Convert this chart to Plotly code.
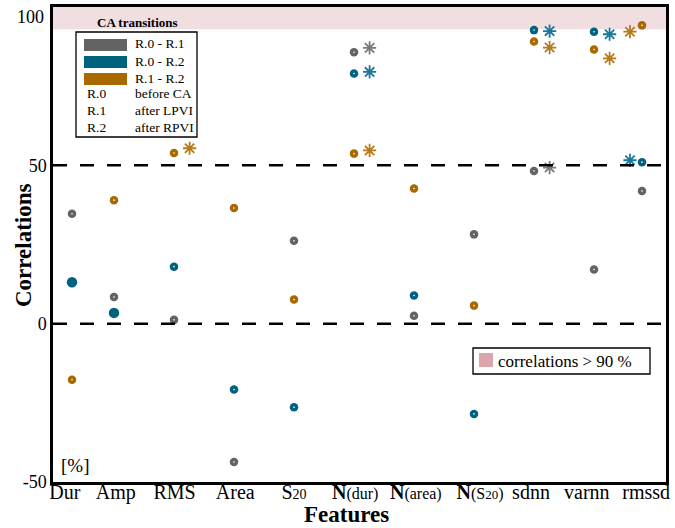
import plotly.graph_objects as go

# ---------------- data ----------------
features = ["Dur", "Amp", "RMS", "Area", "S<span style='font-size:14px'>20</span>",
            "<b>N</b><span style='font-size:16px'>(dur)</span>",
            "<b>N</b><span style='font-size:16px'>(area)</span>",
            "<b>N</b><span style='font-size:16px'>(S<span style='font-size:13px'>20</span>)</span>",
            "sdnn", "varnn", "rmssd"]
feature_pos = [0.3, 1, 2, 3, 4, 5, 6, 7, 8, 9, 9.8]
label_pos = [0.18, 1.03, 2.01, 3.02, 4.0, 5.02, 6.03, 7.1, 7.95, 8.88, 9.87]
y_ticks = [-50, 0, 50, 100]
y_ticktext = ["-50", "0", "50", ""]

r01 = [34.7, 8.4, 1.2, -43.7, 26.2, 85.7, 2.5, 28.2, 48.2, 17.1, 41.9]
r02 = [13.1, 3.4, 18.0, -20.8, -26.4, 79.0, 8.9, -28.5, 92.7, 92.2, 51.0]
r12 = [-17.7, 39.0, 53.9, 36.5, 7.6, 53.7, 42.7, 5.7, 89.1, 86.6, 94.2]

# significance markers: feature index, value, side (+1 right, -1 left)
sig01_idx = [5, 8]
sig01_val = [87.1, 49.3]
sig01_side = [1, 1]
sig02_idx = [5, 8, 9, 10]
sig02_val = [79.5, 92.4, 91.4, 51.6]
sig02_side = [1, 1, 1, -1]
sig12_idx = [2, 5, 8, 9, 10]
sig12_val = [55.4, 54.7, 87.2, 83.8, 92.2]
sig12_side = [1, 1, 1, 1, -1]

series_names = ["R.0 - R.1", "R.0 - R.2", "R.1 - R.2"]
legend_rows = [("R.0", "before CA"), ("R.1", "after LPVI"), ("R.2", "after RPVI")]

# ---------------- style ----------------
GRAY = "#636363"
BLUE = "#00627f"
ORANGE = "#a86a00"
GRAY_A = "#7a7a7a"
BLUE_A = "#1a7898"
ORANGE_A = "#b57c1c"
PINK_BAND = "#f0dee1"
PINK_BOX = "#dca4ac"
FONT = "Liberation Serif, Times New Roman, serif"

L, R, T, B = 53, 666, 7, 482
W, H = 675, 528


def px(x):
    return (x - L) / (R - L)


def py(y):
    return (B - y) / (B - T)


fig = go.Figure()

series = [(r01, GRAY, GRAY_A, sig01_idx, sig01_val, sig01_side),
          (r02, BLUE, BLUE_A, sig02_idx, sig02_val, sig02_side),
          (r12, ORANGE, ORANGE_A, sig12_idx, sig12_val, sig12_side)]

for k, (vals, col, acol, sidx, sval, sside) in enumerate(series):
    sizes = [8.5] * len(vals)
    if k == 1:
        sizes[0] = 10.5
        sizes[1] = 10.5
    fig.add_trace(go.Scatter(x=feature_pos, y=vals, mode="markers",
                             marker=dict(color=col, size=sizes, opacity=1, line=dict(width=0)),
                             showlegend=False, hoverinfo="skip"))
    # white centre dots
    cx = [feature_pos[i] for i in range(len(vals)) if not (k == 1 and i < 2)]
    cy = [vals[i] for i in range(len(vals)) if not (k == 1 and i < 2)]
    fig.add_trace(go.Scatter(x=cx, y=cy, mode="markers",
                             marker=dict(color="white", size=1.6, opacity=1, line=dict(width=0)),
                             showlegend=False, hoverinfo="skip"))
    ax = [feature_pos[i] + (0.26 if s > 0 else -0.2) for i, s in zip(sidx, sside)]
    fig.add_trace(go.Scatter(x=ax, y=sval, mode="markers",
                             marker=dict(symbol="asterisk-open", size=11, color=acol,
                                         line=dict(color=acol, width=1.8)),
                             showlegend=False, hoverinfo="skip"))

shapes = []
# pink band
shapes.append(dict(type="rect", xref="paper", yref="y", x0=0, x1=1, y0=93, y1=100,
                   fillcolor=PINK_BAND, line=dict(width=0), layer="below"))
# dashed lines
for yv in [50, 0]:
    shapes.append(dict(type="line", xref="paper", yref="y", x0=0, x1=1, y0=yv, y1=yv,
                       line=dict(color="black", width=2.5, dash="14px,13px")))
# legend box
shapes.append(dict(type="rect", xref="paper", yref="paper", x0=px(76), x1=px(197),
                   y0=py(137), y1=py(32), fillcolor="white",
                   line=dict(color="black", width=1.3)))
bar_tops = [39, 56, 73]
for (name, col, top) in zip(series_names, [GRAY, BLUE, ORANGE], bar_tops):
    shapes.append(dict(type="rect", xref="paper", yref="paper", x0=px(84), x1=px(127),
                       y0=py(top + 12), y1=py(top), fillcolor=col, line=dict(width=0)))
# correlation box
shapes.append(dict(type="rect", xref="paper", yref="paper", x0=px(473), x1=px(650),
                   y0=py(374), y1=py(348), fillcolor="white",
                   line=dict(color="black", width=1.3)))
shapes.append(dict(type="rect", xref="paper", yref="paper", x0=px(479), x1=px(493),
                   y0=py(367), y1=py(353), fillcolor=PINK_BOX, line=dict(width=0)))

ann = []
ann.append(dict(text="<b>CA transitions</b>", x=px(137), y=py(23), xref="paper", yref="paper",
                showarrow=False, xanchor="center", yanchor="middle",
                font=dict(family=FONT, size=13, color="black")))
for name, top in zip(series_names, bar_tops):
    ann.append(dict(text=name, x=px(133), y=py(top + 5), xref="paper", yref="paper",
                    showarrow=False, xanchor="left", yanchor="middle",
                    font=dict(family=FONT, size=13.5, color="black")))
for (a, b), yy in zip(legend_rows, [93, 110, 127]):
    ann.append(dict(text=a, x=px(85), y=py(yy), xref="paper", yref="paper",
                    showarrow=False, xanchor="left", yanchor="middle",
                    font=dict(family=FONT, size=13.5, color="black")))
    ann.append(dict(text=b, x=px(133), y=py(yy), xref="paper", yref="paper",
                    showarrow=False, xanchor="left", yanchor="middle",
                    font=dict(family=FONT, size=13.5, color="black")))
ann.append(dict(text="correlations > 90 %", x=px(496), y=py(361), xref="paper", yref="paper",
                showarrow=False, xanchor="left", yanchor="middle",
                font=dict(family=FONT, size=17, color="black")))
ann.append(dict(text="[%]", x=px(59), y=py(465), xref="paper", yref="paper",
                showarrow=False, xanchor="left", yanchor="middle",
                font=dict(family=FONT, size=19, color="black")))
# top tick label (kept inside the page)
ann.append(dict(text="100", x=px(46), y=py(17), xref="paper", yref="paper",
                showarrow=False, xanchor="right", yanchor="middle",
                font=dict(family=FONT, size=18, color="black")))
# axis titles
ann.append(dict(text="<b>Features</b>", x=px(346), y=py(529), xref="paper", yref="paper",
                showarrow=False, xanchor="center", yanchor="bottom",
                font=dict(family=FONT, size=23, color="black")))
ann.append(dict(text="<b>Correlations</b>", x=px(23), y=py(245), xref="paper", yref="paper",
                showarrow=False, xanchor="center", yanchor="middle", textangle=-90,
                font=dict(family=FONT, size=23, color="black")))

fig.update_layout(
    width=W, height=H,
    margin=dict(l=L, r=W - R, t=T, b=H - B, autoexpand=False),
    paper_bgcolor="white", plot_bgcolor="white",
    shapes=shapes, annotations=ann,
    font=dict(family=FONT, color="black"),
    xaxis=dict(range=[1 - 61 / 60, 1 + 552 / 60], tickvals=label_pos, ticktext=features,
               tickangle=0, automargin=False, ticklabelstandoff=-10,
               showgrid=False, zeroline=False, showline=True, linecolor="black", linewidth=2.5,
               mirror=True, ticks="", tickfont=dict(family=FONT, size=20, color="black")),
    yaxis=dict(range=[-50, 100], tickvals=y_ticks, ticktext=y_ticktext, showgrid=False,
               zeroline=False, automargin=False,
               showline=True, linecolor="black", linewidth=2.5, mirror=True,
               ticks="inside", ticklen=8, tickwidth=2, tickcolor="black",
               tickfont=dict(family=FONT, size=18, color="black")),
)

fig.write_html("out.html", config={"displayModeBar": False},
               post_script="document.body.style.margin='0px';")
